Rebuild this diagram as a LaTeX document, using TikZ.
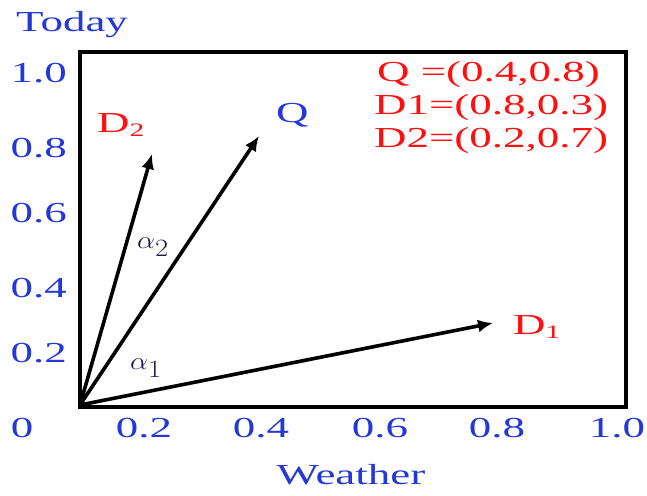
\documentclass[tikz,border=0pt]{standalone}
\usepackage{fontspec}
\setmainfont[FakeStretch=1.55]{Liberation Serif}
\usetikzlibrary{arrows.meta}
\definecolor{tickblue}{HTML}{2438D8}
\definecolor{labred}{HTML}{FF1010}
\definecolor{angink}{HTML}{1C1C50}
\tikzset{
  ticklabel/.style={font=\fontsize{29}{33}\selectfont, text=tickblue, inner sep=0pt},
  redlabel/.style={font=\fontsize{29}{33}\selectfont, text=labred, inner sep=0pt},
  bluelabel/.style={font=\fontsize{29}{33}\selectfont, text=tickblue, inner sep=0pt},
  anglabel/.style={font=\fontsize{34}{36}\selectfont, text=angink, inner sep=0pt, xscale=1.15},
  vec/.style={line width=3.6pt, -{Latex[length=15pt,width=13pt]}}
}
\newcommand{\lowidx}[1]{\raisebox{-4pt}{\fontsize{19}{20}\selectfont #1}}

\begin{document}
\begin{tikzpicture}[x=1pt,y=1pt]
\useasboundingbox (0,0) rectangle (647,495);

% frame
\draw[line width=3.2pt] (80,88) rectangle (626,443);

% axis titles
\node[bluelabel, anchor=base west] (today) at (16,463) {Today};
\node[bluelabel, anchor=base] (weather) at (351,11) {Weather};

% y ticks
\node[ticklabel, anchor=east] (y10) at (67,422) {1.0};
\node[ticklabel, anchor=east] (y08) at (67,347) {0.8};
\node[ticklabel, anchor=east] (y06) at (67,282) {0.6};
\node[ticklabel, anchor=east] (y04) at (67,207) {0.4};
\node[ticklabel, anchor=east] (y02) at (67,142) {0.2};

% x ticks
\node[ticklabel] (x0) at (22,67) {0};
\node[ticklabel] (x02) at (144,67) {0.2};
\node[ticklabel] (x04) at (261,67) {0.4};
\node[ticklabel] (x06) at (380,67) {0.6};
\node[ticklabel] (x08) at (497,67) {0.8};
\node[ticklabel] (x10) at (617,67) {1.0};

% vectors
\coordinate (orig) at (80,90);
\coordinate (qtip) at (259,359);
\coordinate (dAtip) at (493,172);
\coordinate (dBtip) at (152,341);
\draw[vec] (orig) -- (qtip);
\draw[vec] (orig) -- (dAtip);
\draw[vec] (orig) -- (dBtip);

% vector names
\node[bluelabel, anchor=base west] (qname) at (276,372) {Q};
\node[redlabel, anchor=base west] (dBname) at (97,362) {D\lowidx{2}};
\node[redlabel, anchor=base west] (dAname) at (513,160) {D\lowidx{1}};

% angles
\node[anglabel, transform shape] (alphaB) at (153,248) {$\alpha_2$};
\node[anglabel, transform shape] (alphaA) at (146,127) {$\alpha_1$};

% values
\node[redlabel, anchor=base west] (qval) at (377,413) {Q =(0.4,0.8)};
\node[redlabel, anchor=base west] (dAval) at (374,380) {D1=(0.8,0.3)};
\node[redlabel, anchor=base west] (dBval) at (374,347) {D2=(0.2,0.7)};

\end{tikzpicture}
\end{document}
